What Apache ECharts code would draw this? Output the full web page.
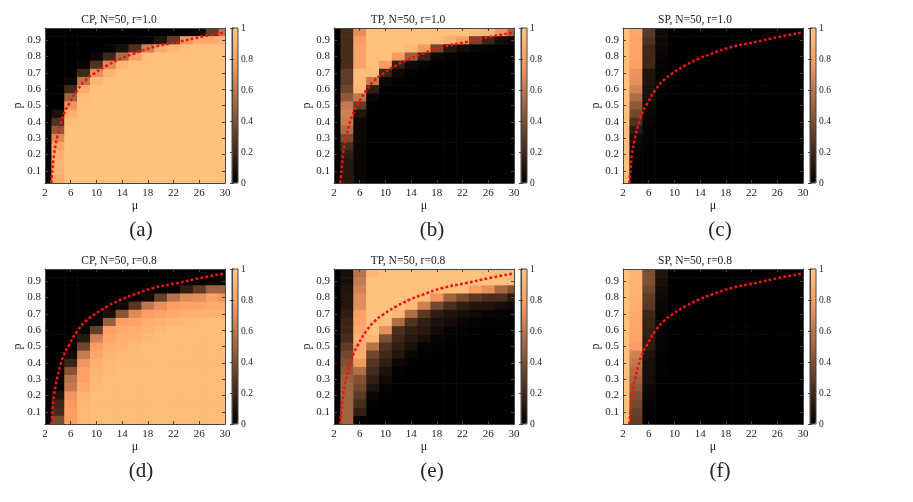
<!DOCTYPE html>
<html>
<head>
<meta charset="utf-8">
<script src="https://cdn.jsdelivr.net/npm/echarts@6/dist/echarts.min.js"></script>
<style>
  html, body { margin: 0; padding: 0; background: #fff; }
  #main { width: 913px; height: 502px; }
</style>
</head>
<body>
<div id="main"></div>
<script>
// grid of the simulations: columns are mu, rows are p (top row first)
var muValues = [2, 4, 6, 8, 10, 12, 14, 16, 18, 20, 22, 24, 26, 28, 30];
var pValues = [0.95, 0.9, 0.85, 0.8, 0.75, 0.7, 0.65, 0.6, 0.55, 0.5, 0.45, 0.4, 0.35, 0.3, 0.25, 0.2, 0.15, 0.1, 0.05];

var xTicks = [2, 6, 10, 14, 18, 22, 26, 30];
var yTicks = [0.1, 0.2, 0.3, 0.4, 0.5, 0.6, 0.7, 0.8, 0.9];
var cbTicks = [0, 0.2, 0.4, 0.6, 0.8, 1];

// red dotted threshold curve (same in every panel)
var curveMu = [2.98, 3.05, 3.2, 3.4, 3.65, 3.92, 4.44, 4.95, 5.73, 7.0, 8.3, 9.6, 11.7, 13.8, 15.8, 18.9, 22.6, 26.2, 30];
var curveP = [0.025, 0.06, 0.12, 0.2, 0.26, 0.31, 0.39, 0.45, 0.51, 0.593, 0.654, 0.695, 0.746, 0.787, 0.818, 0.859, 0.889, 0.92, 0.948];

// CP, N=50, r=1.0
var cpR10 = [
  [0,0,0,0,0,0,0,0,0,0,0,0,0.03,0.3,0.6],
  [0,0,0,0,0,0,0,0,0.02,0.1,0.3,0.75,0.85,0.85,0.9],
  [0,0,0,0,0,0.02,0.08,0.25,0.65,0.85,0.92,0.95,0.97,0.97,0.97],
  [0,0,0,0,0.04,0.2,0.55,0.8,0.95,0.97,0.97,0.97,0.97,0.97,0.97],
  [0,0,0,0.03,0.25,0.7,0.92,0.97,0.97,0.97,0.97,0.97,0.97,0.97,0.97],
  [0,0,0,0.2,0.72,0.9,0.97,0.97,0.97,0.97,0.97,0.97,0.97,0.97,0.97],
  [0,0,0.04,0.6,0.92,0.97,0.97,0.97,0.97,0.97,0.97,0.97,0.97,0.97,0.97],
  [0,0,0.2,0.85,0.97,0.97,0.97,0.97,0.97,0.97,0.97,0.97,0.97,0.97,0.97],
  [0,0,0.5,0.95,0.97,0.97,0.97,0.97,0.97,0.97,0.97,0.97,0.97,0.97,0.97],
  [0,0,0.75,0.97,0.97,0.97,0.97,0.97,0.97,0.97,0.97,0.97,0.97,0.97,0.97],
  [0,0.08,0.88,0.97,0.97,0.97,0.97,0.97,0.97,0.97,0.97,0.97,0.97,0.97,0.97],
  [0,0.25,0.95,0.97,0.97,0.97,0.97,0.97,0.97,0.97,0.97,0.97,0.97,0.97,0.97],
  [0,0.45,0.97,0.97,0.97,0.97,0.97,0.97,0.97,0.97,0.97,0.97,0.97,0.97,0.97],
  [0,0.7,0.97,0.97,0.97,0.97,0.97,0.97,0.97,0.97,0.97,0.97,0.97,0.97,0.97],
  [0,0.82,0.97,0.97,0.97,0.97,0.97,0.97,0.97,0.97,0.97,0.97,0.97,0.97,0.97],
  [0,0.88,0.97,0.97,0.97,0.97,0.97,0.97,0.97,0.97,0.97,0.97,0.97,0.97,0.97],
  [0,0.9,0.97,0.97,0.97,0.97,0.97,0.97,0.97,0.97,0.97,0.97,0.97,0.97,0.97],
  [0,0.9,0.97,0.97,0.97,0.97,0.97,0.97,0.97,0.97,0.97,0.97,0.97,0.97,0.97],
  [0,0.85,0.97,0.97,0.97,0.97,0.97,0.97,0.97,0.97,0.97,0.97,0.97,0.97,0.97]
];

// TP, N=50, r=1.0
var tpR10 = [
  [0,0.22,0.72,0.97,0.97,0.97,0.97,0.97,0.97,0.97,0.97,0.95,0.9,0.75,0.5],
  [0,0.22,0.78,0.97,0.97,0.97,0.97,0.97,0.95,0.88,0.78,0.35,0.18,0.06,0.04],
  [0,0.22,0.82,0.97,0.97,0.97,0.93,0.78,0.35,0.12,0.06,0.03,0.02,0.01,0.01],
  [0,0.22,0.82,0.97,0.97,0.78,0.48,0.18,0.03,0.01,0,0,0,0,0],
  [0,0.22,0.82,0.97,0.78,0.16,0.05,0.02,0,0,0,0,0,0,0],
  [0,0.3,0.95,0.95,0.18,0.04,0.01,0,0,0,0,0,0,0,0],
  [0,0.3,0.95,0.62,0.03,0.01,0,0,0,0,0,0,0,0,0],
  [0,0.35,0.92,0.15,0.01,0,0,0,0,0,0,0,0,0,0],
  [0,0.45,0.6,0.03,0,0,0,0,0,0,0,0,0,0,0],
  [0,0.62,0.3,0.01,0,0,0,0,0,0,0,0,0,0,0],
  [0,0.65,0.1,0,0,0,0,0,0,0,0,0,0,0,0],
  [0,0.62,0.04,0,0,0,0,0,0,0,0,0,0,0,0],
  [0,0.55,0.04,0,0,0,0,0,0,0,0,0,0,0,0],
  [0,0.38,0.04,0,0,0,0,0,0,0,0,0,0,0,0],
  [0,0.22,0.03,0,0,0,0,0,0,0,0,0,0,0,0],
  [0,0.15,0.03,0,0,0,0,0,0,0,0,0,0,0,0],
  [0,0.12,0.03,0,0,0,0,0,0,0,0,0,0,0,0],
  [0,0.12,0.03,0,0,0,0,0,0,0,0,0,0,0,0],
  [0,0.12,0.03,0,0,0,0,0,0,0,0,0,0,0,0]
];

// SP, N=50, r=1.0
var spR10 = [
  [0.97,0.85,0.28,0.05,0,0,0,0,0,0,0,0,0,0,0],
  [0.97,0.82,0.25,0.05,0,0,0,0,0,0,0,0,0,0,0],
  [0.97,0.82,0.2,0.04,0,0,0,0,0,0,0,0,0,0,0],
  [0.97,0.82,0.2,0.03,0,0,0,0,0,0,0,0,0,0,0],
  [0.97,0.8,0.2,0.02,0,0,0,0,0,0,0,0,0,0,0],
  [0.97,0.74,0.1,0.01,0,0,0,0,0,0,0,0,0,0,0],
  [0.97,0.72,0.1,0.01,0,0,0,0,0,0,0,0,0,0,0],
  [0.97,0.66,0.08,0.01,0,0,0,0,0,0,0,0,0,0,0],
  [0.97,0.55,0.07,0.01,0,0,0,0,0,0,0,0,0,0,0],
  [0.97,0.45,0.05,0,0,0,0,0,0,0,0,0,0,0,0],
  [0.97,0.36,0.04,0,0,0,0,0,0,0,0,0,0,0,0],
  [0.97,0.24,0.03,0,0,0,0,0,0,0,0,0,0,0,0],
  [0.97,0.13,0.02,0,0,0,0,0,0,0,0,0,0,0,0],
  [0.97,0.05,0.02,0,0,0,0,0,0,0,0,0,0,0,0],
  [0.97,0.03,0.01,0,0,0,0,0,0,0,0,0,0,0,0],
  [0.97,0.01,0.01,0,0,0,0,0,0,0,0,0,0,0,0],
  [0.97,0.01,0.01,0,0,0,0,0,0,0,0,0,0,0,0],
  [0.97,0.01,0.01,0,0,0,0,0,0,0,0,0,0,0,0],
  [0.97,0.01,0.01,0,0,0,0,0,0,0,0,0,0,0,0]
];

// CP, N=50, r=0.8
var cpR08 = [
  [0,0,0,0,0,0,0,0,0,0,0,0,0,0,0],
  [0,0,0,0,0,0,0,0,0,0,0,0,0,0,0.02],
  [0,0,0,0,0,0,0,0,0,0,0.02,0.15,0.3,0.5,0.5],
  [0,0,0,0,0,0,0,0,0.05,0.32,0.58,0.7,0.72,0.8,0.75],
  [0,0,0,0,0,0,0.05,0.28,0.6,0.72,0.8,0.82,0.82,0.85,0.85],
  [0,0,0,0,0,0.08,0.42,0.7,0.8,0.82,0.85,0.88,0.9,0.9,0.9],
  [0,0,0,0,0.04,0.48,0.8,0.82,0.88,0.9,0.92,0.93,0.95,0.95,0.95],
  [0,0,0,0,0.32,0.8,0.85,0.88,0.9,0.93,0.95,0.95,0.95,0.95,0.95],
  [0,0,0,0.12,0.65,0.84,0.88,0.9,0.93,0.95,0.95,0.95,0.95,0.95,0.95],
  [0,0,0,0.35,0.8,0.88,0.9,0.93,0.95,0.95,0.95,0.95,0.95,0.95,0.95],
  [0,0,0.05,0.62,0.84,0.9,0.93,0.95,0.95,0.95,0.95,0.95,0.95,0.95,0.95],
  [0,0,0.18,0.75,0.88,0.92,0.95,0.95,0.95,0.95,0.95,0.95,0.95,0.95,0.95],
  [0,0,0.42,0.8,0.9,0.93,0.95,0.95,0.95,0.95,0.95,0.95,0.95,0.95,0.95],
  [0,0,0.58,0.82,0.92,0.95,0.95,0.95,0.95,0.95,0.95,0.95,0.95,0.95,0.95],
  [0,0.02,0.62,0.85,0.93,0.95,0.95,0.95,0.95,0.95,0.95,0.95,0.95,0.95,0.95],
  [0,0.1,0.75,0.9,0.95,0.95,0.95,0.95,0.95,0.95,0.95,0.95,0.95,0.95,0.95],
  [0,0.18,0.78,0.92,0.95,0.95,0.95,0.95,0.95,0.95,0.95,0.95,0.95,0.95,0.95],
  [0,0.22,0.8,0.92,0.95,0.95,0.95,0.95,0.95,0.95,0.95,0.95,0.95,0.95,0.95],
  [0,0.38,0.8,0.92,0.95,0.95,0.95,0.95,0.95,0.95,0.95,0.95,0.95,0.95,0.95]
];

// TP, N=50, r=0.8
var tpR08 = [
  [0,0.08,0.58,0.92,0.97,0.97,0.97,0.97,0.97,0.97,0.97,0.97,0.97,0.97,0.97],
  [0,0.08,0.62,0.97,0.97,0.97,0.97,0.97,0.97,0.97,0.97,0.97,0.97,0.97,0.95],
  [0,0.1,0.66,0.97,0.97,0.97,0.97,0.97,0.97,0.95,0.95,0.8,0.72,0.52,0.4],
  [0,0.12,0.71,0.97,0.97,0.97,0.97,0.95,0.75,0.5,0.38,0.28,0.23,0.23,0.12],
  [0,0.12,0.71,0.97,0.97,0.97,0.93,0.65,0.36,0.23,0.15,0.11,0.1,0.07,0.05],
  [0,0.15,0.8,0.97,0.97,0.92,0.55,0.28,0.14,0.09,0.07,0.05,0.03,0.02,0.02],
  [0,0.18,0.82,0.97,0.95,0.55,0.25,0.15,0.09,0.06,0.03,0.02,0.01,0.01,0.01],
  [0,0.19,0.85,0.97,0.72,0.23,0.15,0.12,0.06,0.02,0.01,0,0,0,0],
  [0,0.22,0.9,0.92,0.4,0.19,0.12,0.08,0.02,0.01,0,0,0,0,0],
  [0,0.3,0.85,0.58,0.25,0.15,0.08,0.02,0.01,0,0,0,0,0,0],
  [0,0.36,0.87,0.35,0.2,0.11,0.03,0.01,0,0,0,0,0,0,0],
  [0,0.41,0.77,0.26,0.15,0.04,0.01,0,0,0,0,0,0,0,0],
  [0,0.45,0.55,0.21,0.09,0.01,0,0,0,0,0,0,0,0,0],
  [0,0.49,0.41,0.16,0.05,0,0,0,0,0,0,0,0,0,0],
  [0,0.5,0.36,0.1,0.02,0,0,0,0,0,0,0,0,0,0],
  [0,0.5,0.29,0.04,0.01,0,0,0,0,0,0,0,0,0,0],
  [0,0.5,0.23,0.01,0,0,0,0,0,0,0,0,0,0,0],
  [0,0.5,0.16,0,0,0,0,0,0,0,0,0,0,0,0],
  [0,0.5,0,0,0,0,0,0,0,0,0,0,0,0,0]
];

// SP, N=50, r=0.8
var spR08 = [
  [0.97,0.9,0.4,0.1,0,0,0,0,0,0,0,0,0,0,0],
  [0.97,0.9,0.4,0.08,0,0,0,0,0,0,0,0,0,0,0],
  [0.97,0.9,0.35,0.06,0,0,0,0,0,0,0,0,0,0,0],
  [0.97,0.9,0.3,0.05,0,0,0,0,0,0,0,0,0,0,0],
  [0.97,0.88,0.28,0.03,0,0,0,0,0,0,0,0,0,0,0],
  [0.97,0.86,0.2,0.03,0,0,0,0,0,0,0,0,0,0,0],
  [0.97,0.85,0.18,0.02,0,0,0,0,0,0,0,0,0,0,0],
  [0.97,0.83,0.16,0.02,0,0,0,0,0,0,0,0,0,0,0],
  [0.97,0.82,0.15,0.02,0,0,0,0,0,0,0,0,0,0,0],
  [0.97,0.78,0.13,0.02,0,0,0,0,0,0,0,0,0,0,0],
  [0.97,0.65,0.1,0.01,0,0,0,0,0,0,0,0,0,0,0],
  [0.97,0.6,0.08,0.01,0,0,0,0,0,0,0,0,0,0,0],
  [0.97,0.55,0.07,0.01,0,0,0,0,0,0,0,0,0,0,0],
  [0.97,0.5,0.06,0,0,0,0,0,0,0,0,0,0,0,0],
  [0.97,0.45,0.05,0,0,0,0,0,0,0,0,0,0,0,0],
  [0.97,0.4,0.04,0,0,0,0,0,0,0,0,0,0,0,0],
  [0.97,0.36,0.02,0,0,0,0,0,0,0,0,0,0,0,0],
  [0.97,0.33,0.01,0,0,0,0,0,0,0,0,0,0,0,0],
  [0.97,0.3,0,0,0,0,0,0,0,0,0,0,0,0,0]
];

var panelTitles = ['CP, N=50, r=1.0', 'TP, N=50, r=1.0', 'SP, N=50, r=1.0',
                   'CP, N=50, r=0.8', 'TP, N=50, r=0.8', 'SP, N=50, r=0.8'];
var panelTags = ['(a)', '(b)', '(c)', '(d)', '(e)', '(f)'];
var panelData = [cpR10, tpR10, spR10, cpR08, tpR08, spR08];

// matlab "copper" colormap
var copper = ['#000000', '#402819', '#805033', '#bf774c', '#ff9f65', '#ffc77f'];

var FONT = 'Liberation Serif, Times New Roman, serif';
var AX = '#444';
var colLeft = [45, 334, 623];
var rowTop = [28, 269];
var titleX = [119, 408, 695];
var tagX = [141, 432, 720];
var plotW = 180, plotH = 155;

function toCells(matrix) {
  var out = [];
  for (var r = 0; r < pValues.length; r++) {
    for (var c = 0; c < muValues.length; c++) {
      out.push([muValues[c], pValues[r], matrix[r][c]]);
    }
  }
  return out;
}

function renderCell(params, api) {
  var mu = api.value(0), p = api.value(1);
  var a = api.coord([Math.max(mu - 1, 2), p + 0.025]);
  var b = api.coord([Math.min(mu + 1, 30), p - 0.025]);
  return {
    type: 'rect',
    shape: { x: a[0], y: a[1], width: b[0] - a[0] + 0.6, height: b[1] - a[1] + 0.6 },
    style: { fill: api.visual('color') }
  };
}

var line = { show: true, lineStyle: { color: AX, width: 1 } };
var label = { fontFamily: FONT, fontSize: 11, color: '#222' };

var grids = [], xAxes = [], yAxes = [], series = [], visualMaps = [], graphics = [];

panelData.forEach(function (matrix, i) {
  var left = colLeft[i % 3];
  var top = rowTop[Math.floor(i / 3)];
  var cbLeft = left + 187;
  var g = grids.length;

  grids.push({ left: left, top: top, width: plotW, height: plotH, outerBoundsMode: 'none' });
  grids.push({ left: cbLeft, top: top, width: 6, height: plotH, outerBoundsMode: 'none',
               show: true, borderColor: AX, borderWidth: 1, backgroundColor: 'transparent', z: 10 });

  var xi = xAxes.length, yi = yAxes.length;
  xAxes.push({
    gridIndex: g, type: 'value', min: 2, max: 30, position: 'bottom', z: 10,
    name: 'μ', nameLocation: 'middle', nameGap: 12,
    nameTextStyle: { fontFamily: FONT, fontSize: 12, color: '#222' },
    axisLine: line, splitLine: { show: false },
    axisTick: { inside: true, length: 3, customValues: xTicks, lineStyle: { color: AX } },
    axisLabel: Object.assign({ customValues: xTicks, margin: 5 }, label)
  });
  xAxes.push({
    gridIndex: g, type: 'value', min: 2, max: 30, position: 'top', z: 10,
    axisLine: line, splitLine: { show: false },
    axisTick: { inside: true, length: 3, customValues: xTicks, lineStyle: { color: AX } },
    axisLabel: { show: false }
  });
  xAxes.push({ gridIndex: g + 1, type: 'value', min: 0, max: 1, show: false });

  yAxes.push({
    gridIndex: g, type: 'value', min: 0.025, max: 0.975, position: 'left', z: 10,
    name: 'p', nameLocation: 'middle', nameGap: 19, nameRotate: 90,
    nameTextStyle: { fontFamily: FONT, fontSize: 12, color: '#222' },
    axisLine: line, splitLine: { show: false },
    axisTick: { inside: true, length: 3, customValues: yTicks, lineStyle: { color: AX } },
    axisLabel: Object.assign({ customValues: yTicks, margin: 4 }, label)
  });
  yAxes.push({
    gridIndex: g, type: 'value', min: 0.025, max: 0.975, position: 'right', z: 10,
    axisLine: line, splitLine: { show: false },
    axisTick: { inside: true, length: 3, customValues: yTicks, lineStyle: { color: AX } },
    axisLabel: { show: false }
  });
  yAxes.push({
    gridIndex: g + 1, type: 'value', min: 0, max: 1, position: 'right', z: 11,
    axisLine: line, splitLine: { show: false },
    axisTick: { inside: true, length: 2, customValues: cbTicks, lineStyle: { color: AX } },
    axisLabel: { customValues: cbTicks, margin: 3, fontFamily: FONT, fontSize: 9.5, color: '#222' }
  });
  yAxes.push({
    gridIndex: g + 1, type: 'value', min: 0, max: 1, position: 'left', z: 11,
    axisLine: line, splitLine: { show: false },
    axisTick: { inside: true, length: 2, customValues: cbTicks, lineStyle: { color: AX } },
    axisLabel: { show: false }
  });

  var si = series.length;
  series.push({
    type: 'custom', xAxisIndex: xi, yAxisIndex: yi, clip: true, silent: true,
    encode: { x: 0, y: 1 }, renderItem: renderCell, data: toCells(matrix)
  });
  series.push({
    type: 'line', xAxisIndex: xi, yAxisIndex: yi, smooth: true, showSymbol: false,
    silent: true, clip: true, z: 5,
    lineStyle: { color: '#f01414', width: 2.5, type: [2.8, 2.2] },
    data: curveMu.map(function (m, k) { return [m, curveP[k]]; })
  });

  visualMaps.push({
    type: 'continuous', min: 0, max: 1, dimension: 2, seriesIndex: si,
    calculable: false, hoverLink: false, orient: 'vertical', padding: 0,
    left: cbLeft, top: top, itemWidth: 6, itemHeight: plotH,
    inRange: { color: copper }
  });

  graphics.push({
    type: 'text', x: titleX[i % 3], y: top - 8,
    style: { text: panelTitles[i], align: 'center', verticalAlign: 'middle',
             font: '11.5px ' + FONT, fill: '#222' }
  });
  graphics.push({
    type: 'text', x: tagX[i % 3], y: top + 202,
    style: { text: panelTags[i], align: 'center', verticalAlign: 'middle',
             font: '21px ' + FONT, fill: '#222' }
  });
});

var chart = echarts.init(document.getElementById('main'));
chart.setOption({
  animation: false,
  backgroundColor: '#fff',
  grid: grids,
  xAxis: xAxes,
  yAxis: yAxes,
  visualMap: visualMaps,
  graphic: graphics,
  series: series
});
</script>
</body>
</html>
